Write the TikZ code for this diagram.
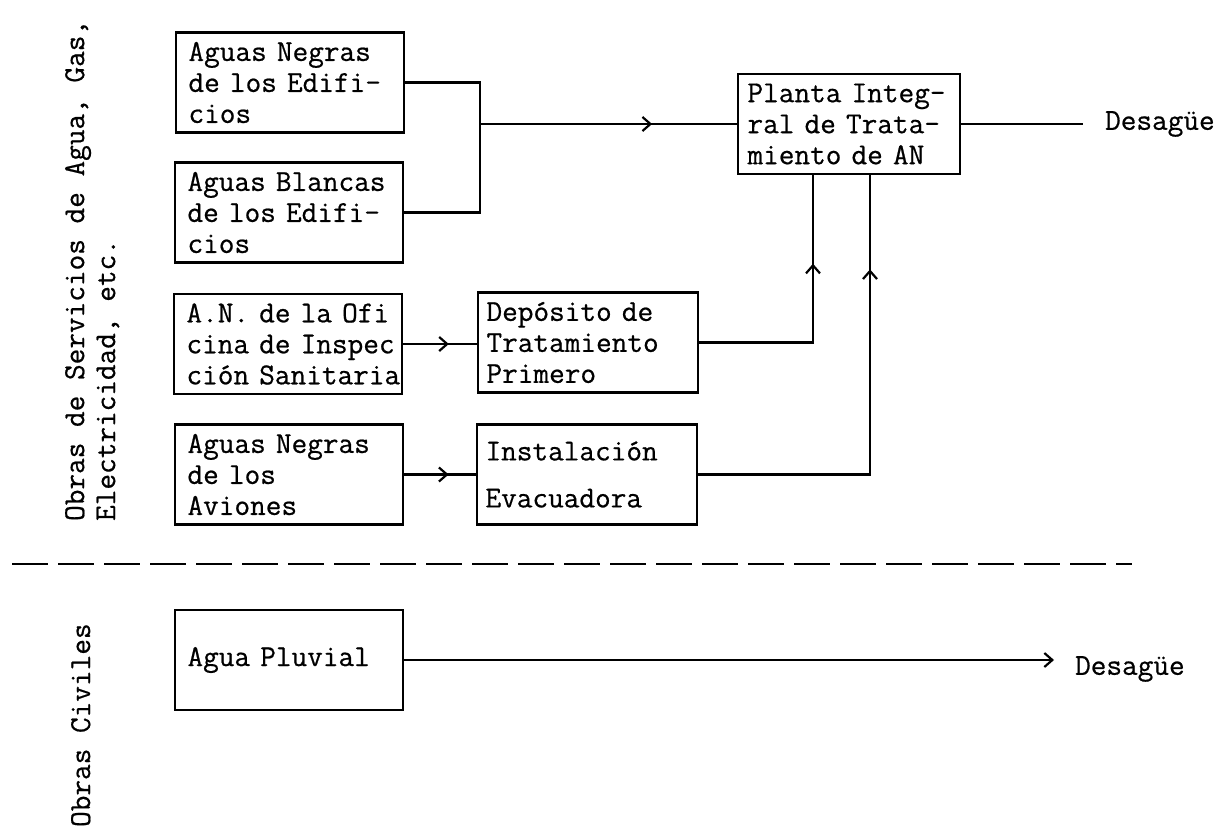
\documentclass[tikz,border=0pt]{standalone}
\usepackage{fontspec}
\newfontfamily\twfont[FakeBold=0.6]{Latin Modern Mono}
\usepackage{tikz}
\usetikzlibrary{arrows.meta,decorations.markings}
\newcommand{\boxfont}{\twfont\fontsize{15.2pt}{15.5pt}\selectfont}

\begin{document}
\begin{tikzpicture}[x=0.5pt,y=-0.5pt,line width=1.1pt,
blk/.style={draw,rectangle,minimum height=50pt,text width=101.5pt,inner xsep=6.25pt,inner ysep=0pt,align=left,font=\boxfont},
midblk/.style={blk,inner xsep=4.25pt},
lbl/.style={inner sep=0pt,font=\boxfont},
midarr/.style={postaction={decorate},decoration={markings,mark=at position #1 with {\arrow{Straight Barb[length=4pt,width=7pt]}}}}]
\useasboundingbox (0,0) rectangle (1215,830);
% side labels
\node[lbl,rotate=90,anchor=north west,align=left] (obras) at (64,522)
   {Obras de Servicios de Agua, Gas,\\Electricidad, etc.};
\node[lbl,rotate=90,anchor=north west] (civiles) at (70,828) {Obras Civiles};
% sources
\node[blk] (negras) at (290,82.5) {Aguas Negras\\de los Edifi-\\cios};
\node[blk] (blancas) at (289,212.5) {Aguas Blancas\\de los Edifi-\\cios};
\node[blk] (oficina) at (288,344) {\mbox{A.N. de la Ofi}\\\mbox{cina de Inspec}\\\mbox{ción Sanitaria}};
\node[blk] (aviones) at (289,474.5) {Aguas Negras\\de los\\Aviones};
\node[blk] (pluvial) at (289,660) {Agua Pluvial};
% treatment
\node[midblk] (deposito) at (588,342.5) {Depósito de\\Tratamiento\\Primero};
\node[midblk] (instal) at (587,474.5) {Instalación\\[8pt]Evacuadora};
\node[blk,inner xsep=4.75pt] (planta) at (849,124) {\mbox{Planta Integ-}\\\mbox{ral de Trata-}\\\mbox{miento de AN}};
\node[lbl,anchor=west] (desague1) at (1104,124) {Desagüe};
\node[lbl,anchor=west] (desague2) at (1074,669) {Desagüe};
\coordinate (jn) at (480,124);
% connectors
\draw (negras.east) -| (jn) |- (blancas.east);
\draw[midarr=0.67] (jn) -- (planta.west);
\draw[midarr=0.62] (oficina.east) -- (oficina.east -| deposito.west);
\draw[midarr=0.62] (aviones.east) -- (instal.west);
\draw[midarr=0.685] (deposito.east) -| ([xshift=-18pt]planta.south);
\draw[midarr=0.8] (instal.east) -| ([xshift=10.5pt]planta.south);
\draw[shorten >=10.5pt] (planta.east) -- (desague1.west);
\draw[-{Straight Barb[length=4pt,width=7pt]},shorten >=10pt] (pluvial.east) -- (pluvial.east -| desague2.west);
% boundary
\draw[line width=1pt,dash pattern=on 18pt off 5pt] (12,564) -- (1132,564);
\end{tikzpicture}
\end{document}
